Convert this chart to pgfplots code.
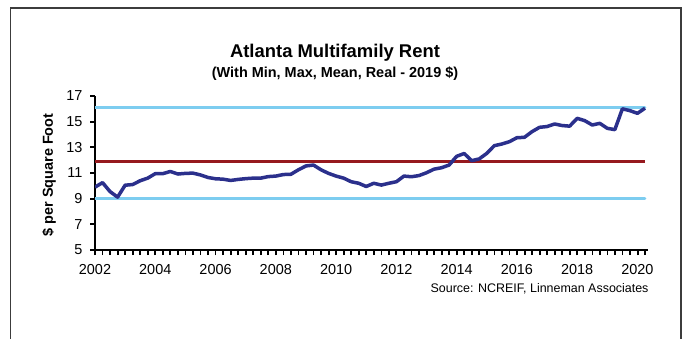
\documentclass[border=0pt]{standalone}
\usepackage{fontspec}
\setmainfont{Liberation Sans}
\usepackage{pgfplots}
\pgfplotsset{compat=1.18}
\definecolor{maxmin}{RGB}{125,205,240}
\definecolor{meanred}{RGB}{150,25,30}
\definecolor{navyline}{RGB}{43,48,140}
\definecolor{framegray}{RGB}{60,60,60}
\begin{document}
\begin{tikzpicture}
\path[use as bounding box] (0bp,0bp) rectangle (690bp,-339bp);
\draw[framegray, line width=1.2bp] (10.5bp,-339bp) -- (10.5bp,-8bp) -- (681bp,-8bp) -- (681bp,-339bp);
\node[font=\fontsize{18.5}{22}\selectfont\bfseries] at (335bp,-53bp) {Atlanta Multifamily Rent};
\node[font=\fontsize{14.5}{17}\selectfont\bfseries] at (335bp,-74bp) {(With Min, Max, Mean, Real - 2019 \$)};
\node[font=\fontsize{12.5}{15}\selectfont, anchor=east] at (652bp,-289bp) {Source: NCREIF, Linneman Associates};
\node[font=\fontsize{14.5}{17}\selectfont\bfseries, rotate=90] at (49bp,-175bp) {\$ per Square Foot};
\begin{axis}[
  at={(95bp,-250bp)}, anchor=south west,
  scale only axis, width=553bp, height=154bp,
  xmin=2002, xmax=2020.35, ymin=5, ymax=17,
  separate axis lines,
  x axis line style={line width=2.8bp},
  y axis line style={line width=2.8bp},
  every outer x axis line/.append style={line width=2.8bp},
  every outer y axis line/.append style={line width=2.8bp},
  axis x line*=bottom, axis y line*=left,
  xtick={2002,2004,...,2020},
  minor xtick={2002,2002.25,...,2020.3},
  ytick={5,7,...,17},
  tick align=outside,
  tickwidth=5bp, subtickwidth=5bp,
  tick style={draw=black, line width=1.8bp},
  minor tick style={draw=black, line width=1.8bp},
  /pgf/number format/1000 sep={},
  /pgf/number format/assume math mode=true,
  ticklabel style={font=\fontsize{14.5}{17}\selectfont},
  xticklabel style={yshift=-6bp},
  yticklabel style={xshift=-4bp},
]
\addplot[maxmin, line width=3bp, line cap=round] coordinates {(2002,16.1) (2020.25,16.1)};
\addplot[maxmin, line width=3bp, line cap=round] coordinates {(2002,9.0) (2020.25,9.0)};
\addplot[meanred, line width=3bp] coordinates {(2002,11.9) (2020.25,11.9)};
\addplot[navyline, line width=3.5bp, line join=round, no markers] coordinates {
(2002.00,9.9) (2002.25,10.25) (2002.50,9.55) (2002.75,9.12)
(2003.00,10.05) (2003.25,10.1) (2003.50,10.4) (2003.75,10.6)
(2004.00,10.95) (2004.25,10.95) (2004.50,11.12) (2004.75,10.92)
(2005.00,10.97) (2005.25,10.99) (2005.50,10.85) (2005.75,10.65)
(2006.00,10.55) (2006.25,10.52) (2006.50,10.42) (2006.75,10.5)
(2007.00,10.56) (2007.25,10.6) (2007.50,10.6) (2007.75,10.72)
(2008.00,10.76) (2008.25,10.88) (2008.50,10.9) (2008.75,11.25)
(2009.00,11.55) (2009.25,11.62) (2009.50,11.25) (2009.75,10.97)
(2010.00,10.76) (2010.25,10.6) (2010.50,10.32) (2010.75,10.2)
(2011.00,9.95) (2011.25,10.2) (2011.50,10.06) (2011.75,10.2)
(2012.00,10.32) (2012.25,10.76) (2012.50,10.71) (2012.75,10.8)
(2013.00,11.02) (2013.25,11.3) (2013.50,11.41) (2013.75,11.62)
(2014.00,12.3) (2014.25,12.52) (2014.50,11.96) (2014.75,12.1)
(2015.00,12.53) (2015.25,13.13) (2015.50,13.26) (2015.75,13.44)
(2016.00,13.75) (2016.25,13.78) (2016.50,14.22) (2016.75,14.56)
(2017.00,14.62) (2017.25,14.82) (2017.50,14.7) (2017.75,14.65)
(2018.00,15.26) (2018.25,15.08) (2018.50,14.74) (2018.75,14.87)
(2019.00,14.48) (2019.25,14.38) (2019.50,16.0) (2019.75,15.86)
(2020.00,15.65) (2020.25,16.05)
};
\end{axis}
\end{tikzpicture}
\end{document}
